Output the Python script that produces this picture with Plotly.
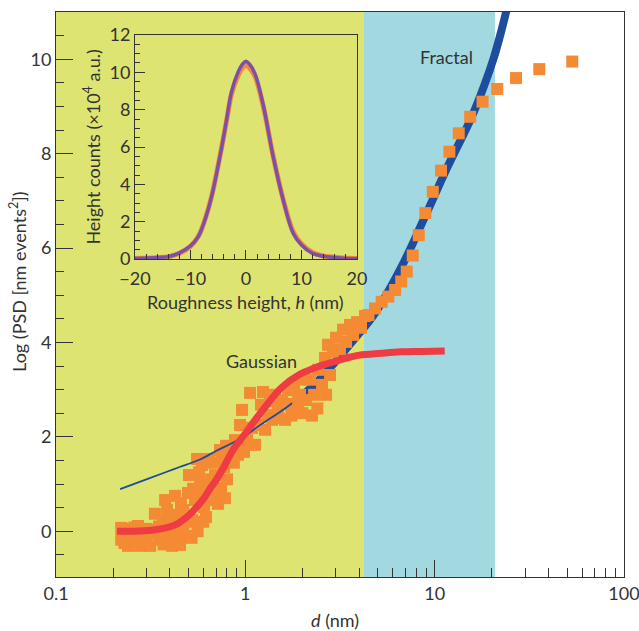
import math
import plotly.graph_objects as go

# ---------------- data ----------------
x_min, x_max = 0.1, 100
y_min, y_max = -0.97, 11.0
region_gauss_end = 4.2      # end of yellow (Gaussian) region, nm
region_fractal_end = 20.8   # end of blue (Fractal) region, nm

# PSD data squares, low-d part (drawn beneath the fits)
psd_low_d = [0.221, 0.221, 0.230, 0.235, 0.240, 0.249, 0.260, 0.260, 0.271, 0.278,
             0.288, 0.300, 0.300, 0.314, 0.321, 0.333, 0.340, 0.350, 0.354, 0.367,
             0.370, 0.377, 0.386, 0.390, 0.400, 0.410, 0.415, 0.425, 0.430, 0.440,
             0.441, 0.452, 0.457, 0.470, 0.470, 0.486, 0.498, 0.500, 0.504, 0.520,
             0.523, 0.530, 0.542, 0.556, 0.560, 0.570, 0.576, 0.591, 0.600, 0.600,
             0.605, 0.620, 0.628, 0.643, 0.660, 0.667, 0.680, 0.692, 0.700, 0.718,
             0.735, 0.744, 0.750, 0.772, 0.780, 0.791, 0.800, 0.820, 0.830, 0.851,
             0.870, 0.882, 0.900, 0.915, 0.938, 0.961, 0.984, 1.021, 1.059, 1.085,
             1.125, 1.167, 1.210, 1.240, 1.271, 1.318, 1.350, 1.384, 1.435, 1.489,
             1.500, 1.563, 1.621, 1.650, 1.681, 1.743, 1.750, 1.808, 1.876]
psd_low_y = [0.07, -0.18, -0.25, 0.05, -0.31, -0.01, -0.20, 0.08, 0.11, -0.31,
             -0.12, -0.22, 0.05, -0.31, 0.03, 0.37, -0.05, 0.10, -0.18, 0.20,
             -0.28, 0.66, 0.45, -0.10, 0.25, -0.31, 0.03, 0.75, -0.15, 0.12,
             0.35, -0.29, 0.60, 0.00, 0.45, -0.10, 0.81, 0.20, 1.19, -0.14,
             0.24, 0.90, 0.66, 1.53, 0.00, 1.25, 1.00, 1.40, 0.20, 0.85,
             0.51, 0.30, 0.87, 1.53, 1.10, 0.66, 1.45, 1.19, 0.80, 0.58,
             1.72, 0.92, 1.60, 1.36, 0.70, 1.81, 1.10, 1.51, 1.75, 1.76,
             1.45, 1.93, 1.85, 1.62, 2.25, 2.57, 1.68, 1.93, 2.93, 2.19,
             1.83, 2.25, 2.68, 2.95, 2.15, 2.46, 2.75, 2.36, 2.89, 2.61,
             2.40, 2.78, 2.36, 2.70, 2.99, 2.68, 2.45, 3.10, 2.53]

# PSD data squares, high-d part (drawn above the fractal fit)
psd_high_d = [1.900, 1.945, 2.000, 2.018, 2.093, 2.197, 2.250, 2.307, 2.400, 2.421,
              2.542, 2.636, 2.669, 2.735, 2.802, 2.906, 3.013, 3.162, 3.281, 3.404,
              3.573, 3.707, 3.890, 4.083, 4.285, 4.47, 4.84, 5.25, 5.69, 6.18,
              6.66, 7.12, 7.66, 8.24, 8.93, 9.77, 10.8, 11.96, 13.4, 15.4,
              17.9, 21.4, 26.9, 35.7, 53.3]
psd_high_y = [2.75, 2.89, 2.50, 3.21, 2.78, 3.21, 2.45, 2.89, 2.60, 3.42,
              3.10, 3.67, 2.89, 3.95, 3.31, 3.80, 4.10, 3.85, 4.27, 4.01,
              4.37, 4.16, 4.43, 4.31, 4.56, 4.58, 4.72, 4.86, 4.97, 5.11,
              5.29, 5.50, 5.84, 6.27, 6.74, 7.19, 7.64, 8.04, 8.43, 8.78,
              9.10, 9.37, 9.60, 9.79, 9.95]

# Gaussian fit (red)
gauss_d = [0.21, 0.26, 0.32, 0.38, 0.43, 0.47, 0.51, 0.55, 0.60, 0.65, 0.70, 0.77,
           0.86, 0.94, 1.00, 1.10, 1.30, 1.55, 1.95, 2.30, 2.60, 3.00, 3.50, 4.00,
           5.20, 6.60, 8.50, 11.3]
gauss_y = [0.0, 0.0, 0.02, 0.07, 0.14, 0.24, 0.36, 0.50, 0.68, 0.90, 1.08, 1.36,
           1.72, 1.93, 2.07, 2.30, 2.68, 3.04, 3.33, 3.45, 3.53, 3.60, 3.68, 3.73,
           3.77, 3.80, 3.81, 3.82]

# Fractal fit (blue)
fractal_d = [0.218, 0.30, 0.385, 0.45, 0.576, 0.70, 0.864, 1.0, 1.15, 1.62, 1.95,
             2.38, 3.0, 3.73, 4.84, 6.7, 8.9, 11.7, 15.7, 18.3, 20.6, 22.5, 24.5]
fractal_y = [0.89, 1.10, 1.26, 1.36, 1.52, 1.70, 1.88, 2.02, 2.20, 2.60, 2.85,
             3.15, 3.60, 4.05, 4.62, 5.61, 6.67, 7.72, 8.78, 9.45, 10.05, 10.6, 11.2]
fractal_thick_from = 1.9

# Inset: height distribution
inset_h = [-20, -16, -14, -12, -10, -8.6, -7.4, -6.2, -4.7, -3.5, -2.6, -1.4, -0.6, 0,
           0.6, 1.6, 3.1, 4.9, 6.7, 8.5, 10, 12, 14, 17, 20]
inset_purple = [0.03, 0.08, 0.13, 0.33, 0.70, 1.20, 2.09, 3.34, 5.48, 7.45, 8.96, 10.03,
                10.45, 10.60, 10.45, 9.94, 8.25, 5.48, 3.16, 1.38, 0.75, 0.30, 0.15, 0.06, 0.02]
inset_orange = [0.03, 0.07, 0.12, 0.30, 0.68, 1.20, 2.10, 3.35, 5.50, 7.40, 8.85, 9.85,
                10.25, 10.38, 10.25, 9.80, 8.20, 5.50, 3.20, 1.45, 0.80, 0.35, 0.16, 0.07, 0.03]

label_fractal = ("Fractal", 11.6, 10.05)
label_gauss = ("Gaussian", 1.22, 3.61)

# ---------------- styling ----------------
TXT = "#333333"
YELLOW = "rgb(222,228,113)"
CYAN = "rgb(162,217,224)"
ORANGE = "rgb(245,138,52)"
RED = "rgb(238,59,68)"
BLUE = "rgb(30,76,158)"
PURPLE = "rgb(124,80,168)"
FONT = "Lato"

fig = go.Figure()

# shaded regions
fig.add_trace(go.Scatter(x=[x_min, region_gauss_end, region_gauss_end, x_min, x_min],
                         y=[y_min, y_min, y_max, y_max, y_min], fill="toself",
                         fillcolor=YELLOW, mode="lines", line=dict(width=0),
                         hoverinfo="skip"))
fig.add_trace(go.Scatter(x=[region_gauss_end, region_fractal_end, region_fractal_end,
                            region_gauss_end, region_gauss_end],
                         y=[y_min, y_min, y_max, y_max, y_min], fill="toself",
                         fillcolor=CYAN, mode="lines", line=dict(width=0),
                         hoverinfo="skip"))

sq = dict(symbol="square", size=12, color=ORANGE, line=dict(width=0))
fig.add_trace(go.Scatter(x=psd_low_d, y=psd_low_y, mode="markers", marker=sq))

fig.add_trace(go.Scatter(x=fractal_d, y=fractal_y, mode="lines",
                         line=dict(color=BLUE, width=1.8, shape="spline")))
thick_d = [d for d in fractal_d if d >= fractal_thick_from]
thick_y = [y for d, y in zip(fractal_d, fractal_y) if d >= fractal_thick_from]
fig.add_trace(go.Scatter(x=thick_d, y=thick_y, mode="lines",
                         line=dict(color=BLUE, width=8, shape="spline")))

fig.add_trace(go.Scatter(x=psd_high_d, y=psd_high_y, mode="markers", marker=sq))

fig.add_trace(go.Scatter(x=gauss_d, y=gauss_y, mode="lines",
                         line=dict(color=RED, width=7, shape="spline")))

# inset
fig.add_trace(go.Scatter(x=inset_h, y=inset_orange, mode="lines", xaxis="x2", yaxis="y2",
                         line=dict(color="rgb(245,137,58)", width=5, shape="spline")))
fig.add_trace(go.Scatter(x=inset_h, y=inset_purple, mode="lines", xaxis="x2", yaxis="y2",
                         line=dict(color=PURPLE, width=3.5, shape="spline")))

axis_common = dict(showline=True, linecolor=TXT, linewidth=1, mirror=True,
                   showgrid=False, zeroline=False, ticks="inside", tickcolor=TXT,
                   tickwidth=1, automargin=False, ticklabeloverflow="allow",
                   tickfont=dict(family=FONT, size=18, color=TXT))

fig.update_layout(
    width=639, height=631,
    margin=dict(l=56, r=15, t=12, b=54),
    paper_bgcolor="white", plot_bgcolor="rgba(0,0,0,0)",
    showlegend=False,
    font=dict(family=FONT, size=18, color=TXT),
    xaxis=dict(type="log", range=[math.log10(x_min), math.log10(x_max)],
               tickvals=[0.1, 1, 10, 100], ticktext=["0.1", "1", "10", "100"],
               ticklen=17,
               minor=dict(ticks="inside", ticklen=9, tickcolor=TXT, tickwidth=1,
                          tickvals=[m * 10 ** e for e in (-1, 0, 1) for m in range(2, 10)]),
               **axis_common),
    yaxis=dict(range=[y_min, y_max], tickvals=[0, 2, 4, 6, 8, 10], ticklen=17,
               minor=dict(ticks="inside", ticklen=8, tickcolor=TXT, tickwidth=1,
                          tickvals=[v / 2 for v in range(-1, 22) if v % 4 != 0]),
               **axis_common),
    xaxis2=dict(domain=[0.139, 0.530], anchor="y2", range=[-20, 20],
                tickvals=[-20, -10, 0, 10, 20], ticklen=9, ticklabelstandoff=3,
                minor=dict(ticks="inside", ticklen=5, tickcolor=TXT, tickwidth=1,
                           tickvals=[v for v in range(-18, 20, 2) if v % 10 != 0]),
                **axis_common),
    yaxis2=dict(domain=[0.5628, 0.9593], anchor="x2", range=[0, 12],
                tickvals=[0, 2, 4, 6, 8, 10, 12], ticklen=10,
                minor=dict(ticks="inside", ticklen=5, tickcolor=TXT, tickwidth=1,
                           tickvals=[v / 2 for v in range(1, 24) if v % 4 != 0]),
                **axis_common),
    annotations=[
        dict(text=label_fractal[0], x=math.log10(label_fractal[1]), y=label_fractal[2],
             xref="x", yref="y", showarrow=False, font=dict(size=18, color=TXT)),
        dict(text=label_gauss[0], x=math.log10(label_gauss[1]), y=label_gauss[2],
             xref="x", yref="y", showarrow=False, font=dict(size=18, color=TXT)),
        # axis titles
        dict(text="<i>d</i> (nm)", xref="paper", yref="paper", x=0.491, y=-0.076,
             xanchor="center", yanchor="middle", showarrow=False),
        dict(text="Log (PSD [nm events<sup>2</sup>])", xref="paper", yref="paper",
             x=-0.067, y=0.524, textangle=-90, xanchor="center", yanchor="middle",
             showarrow=False),
        dict(text="Roughness height, <i>h</i> (nm)", xref="paper", yref="paper",
             x=0.3336, y=0.487, xanchor="center", yanchor="middle", showarrow=False),
        dict(text="Height counts (×10<sup>4</sup> a.u.)", xref="paper", yref="paper",
             x=0.0634, y=0.760, textangle=-90, xanchor="center", yanchor="middle",
             showarrow=False),
    ],
)

fig.write_html("out.html")
